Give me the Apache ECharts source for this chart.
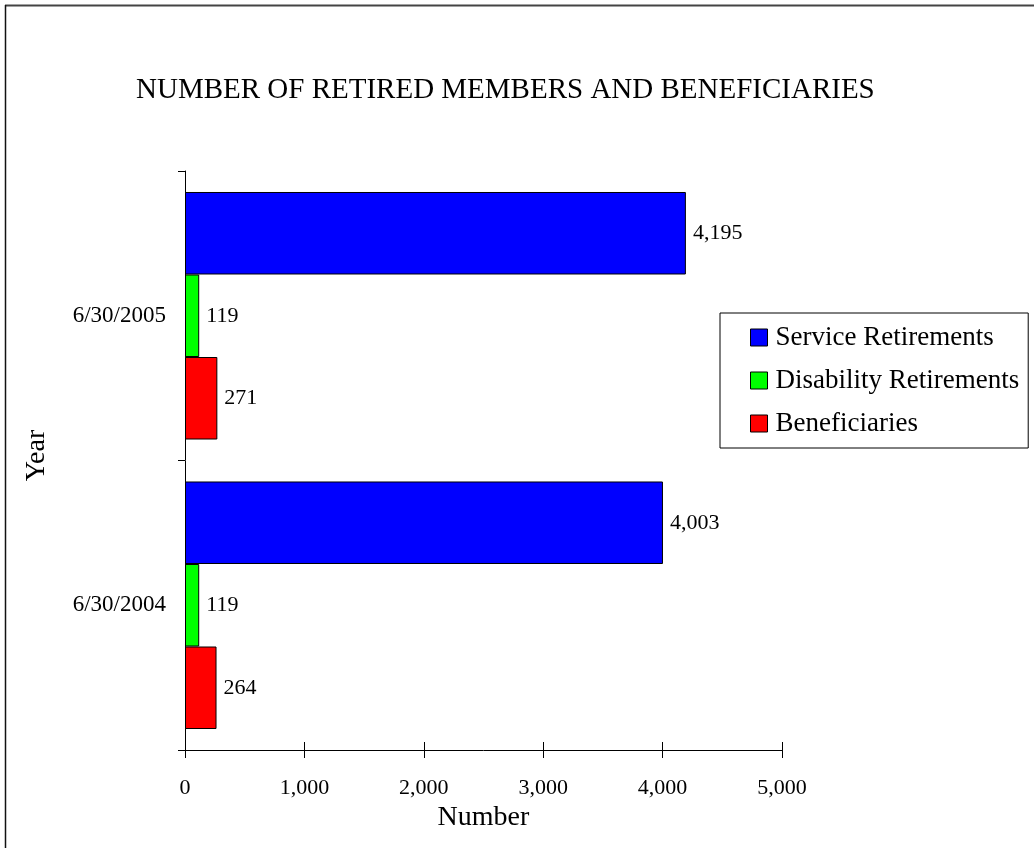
<!DOCTYPE html>
<html>
<head>
<meta charset="utf-8">
<script src="https://cdn.jsdelivr.net/npm/echarts@6/dist/echarts.min.js"></script>
<style>
html,body{margin:0;padding:0;background:#fff;}
#chart{width:1034px;height:848px;}
</style>
</head>
<body>
<div id="chart"></div>
<script>
var categories = ['6/30/2004', '6/30/2005'];
var serviceRetirements = [4003, 4195];
var disabilityRetirements = [119, 119];
var beneficiaries = [264, 271];
var xTicks = [0, 1000, 2000, 3000, 4000, 5000];

var FONT = '"Liberation Serif", "Times New Roman", serif';
function fmt(v) { return Number(v).toLocaleString('en-US'); }

var labelCfg = {
  show: true, position: 'right', distance: 7,
  fontFamily: FONT, fontSize: 22, color: '#000',
  formatter: function (p) { return fmt(p.value); }
};

function barSeries(name, data, color) {
  return {
    name: name, type: 'bar', data: data,
    barGap: '0%', barCategoryGap: '14.5%',
    itemStyle: { color: color, borderColor: '#000', borderWidth: 1 },
    label: labelCfg,
    emphasis: { disabled: true }
  };
}

var chart = echarts.init(document.getElementById('chart'), null, { renderer: 'canvas' });
chart.setOption({
  animation: false,
  backgroundColor: '#fff',
  title: {
    text: 'NUMBER OF RETIRED MEMBERS AND BENEFICIARIES',
    left: 131, top: 71,
    textStyle: { fontFamily: FONT, fontSize: 29, fontWeight: 'normal', color: '#000', lineHeight: 29 }
  },
  legend: {
    data: ['Service Retirements', 'Disability Retirements', 'Beneficiaries'],
    orient: 'vertical',
    left: 720, top: 313,
    padding: [11, 9, 11, 30],
    itemGap: 16,
    itemWidth: 17, itemHeight: 17,
    icon: 'rect',
    borderColor: '#000', borderWidth: 1,
    backgroundColor: '#fff',
    itemStyle: { borderColor: '#000', borderWidth: 1 },
    textStyle: { fontFamily: FONT, fontSize: 27, color: '#000', padding: [0, 0, 0, 3] },
    selectedMode: false
  },
  grid: { left: 185, right: 252, top: 171, bottom: 98, containLabel: false },
  xAxis: [{
    type: 'value', min: xTicks[0], max: xTicks[xTicks.length - 1], interval: xTicks[1] - xTicks[0],
    position: 'bottom',
    name: 'Number', nameLocation: 'middle', nameGap: 54,
    nameTextStyle: { fontFamily: FONT, fontSize: 28, color: '#000' },
    axisLine: { show: true, lineStyle: { color: '#000', width: 1 } },
    axisTick: { show: true, length: 8, lineStyle: { color: '#000' } },
    axisLabel: { fontFamily: FONT, fontSize: 22, color: '#000', margin: 27, formatter: function (v) { return fmt(v); } },
    splitLine: { show: false }
  }, {
    type: 'value', min: xTicks[0], max: xTicks[xTicks.length - 1], interval: xTicks[1] - xTicks[0],
    position: 'bottom', offset: 0,
    axisLine: { show: false },
    axisTick: { show: true, inside: true, length: 8, lineStyle: { color: '#000' } },
    axisLabel: { show: false },
    splitLine: { show: false }
  }],
  yAxis: {
    type: 'category', data: categories,
    name: 'Year', nameLocation: 'middle', nameGap: 134, nameRotate: 90,
    nameTextStyle: { fontFamily: FONT, fontSize: 28, color: '#000', padding: [0, 0, 0, 10] },
    axisLine: { show: true, lineStyle: { color: '#000', width: 1 } },
    axisTick: { show: true, length: 7, lineStyle: { color: '#000' } },
    axisLabel: { fontFamily: FONT, fontSize: 23, color: '#000', margin: 19 },
    splitLine: { show: false }
  },
  series: [
    barSeries('Service Retirements', serviceRetirements, '#0000FF'),
    barSeries('Disability Retirements', disabilityRetirements, '#00FF00'),
    barSeries('Beneficiaries', beneficiaries, '#FF0000')
  ],
  graphic: [
    { type: 'line', shape: { x1: 5, y1: 5.5, x2: 1034, y2: 5.5 }, style: { stroke: '#444', lineWidth: 2 }, silent: true },
    { type: 'line', shape: { x1: 5.5, y1: 5, x2: 5.5, y2: 848 }, style: { stroke: '#111', lineWidth: 1.5 }, silent: true }
  ]
});
</script>
</body>
</html>
